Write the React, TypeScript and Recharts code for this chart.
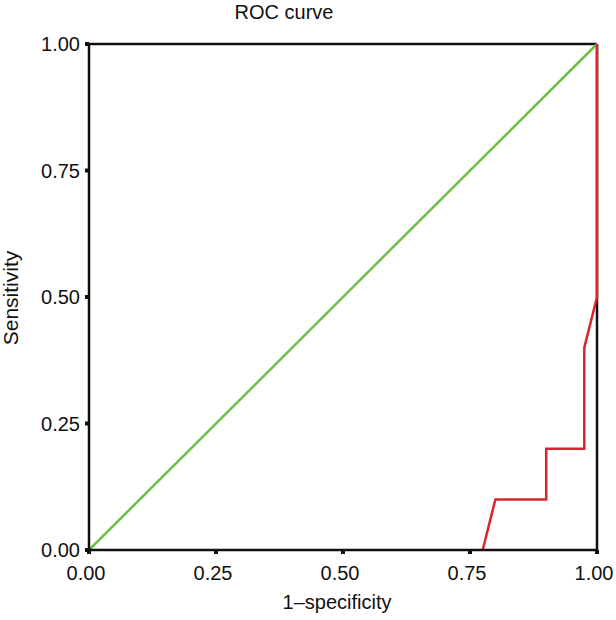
import React from 'react';
import { LineChart, Line, XAxis, YAxis, ReferenceLine } from 'recharts';

const xTicks = [0, 0.25, 0.5, 0.75, 1];
const yTicks = [0, 0.25, 0.5, 0.75, 1];
const tickLabels = ['0.00', '0.25', '0.50', '0.75', '1.00'];

const referenceFpr = [0, 1];
const referenceTpr = [0, 1];

const rocFpr = [0.775, 0.8, 0.9, 0.9, 0.975, 0.975, 1, 1];
const rocTpr = [0, 0.1, 0.1, 0.2, 0.2, 0.4, 0.5, 1];

const referenceData = referenceFpr.map((x, i) => ({ x, y: referenceTpr[i] }));
const rocData = rocFpr.map((x, i) => ({ x, y: rocTpr[i] }));

const FONT = '"Liberation Sans", Arial, sans-serif';
const fmt = (v: number) => tickLabels[xTicks.indexOf(v)] ?? v.toFixed(2);

export default function App() {
  return (
    <div style={{ position: 'absolute', left: 0, top: 0, width: 616, height: 620, background: '#fff', fontFamily: FONT }}>
      <LineChart width={616} height={620} margin={{ top: 44, right: 19, left: 0, bottom: 0 }}>
        <XAxis
          type="number"
          dataKey="x"
          domain={[0, 1]}
          ticks={xTicks}
          tickFormatter={fmt}
          height={70}
          axisLine={{ stroke: '#111', strokeWidth: 2.5 }}
          tickLine={{ stroke: '#111', strokeWidth: 4 }}
          tickSize={4}
          tickMargin={12}
          tick={{ fill: '#111', fontSize: 20, fontFamily: FONT, dx: -3 }}
        />
        <YAxis
          type="number"
          dataKey="y"
          domain={[0, 1]}
          ticks={yTicks}
          tickFormatter={fmt}
          width={89}
          axisLine={{ stroke: '#111', strokeWidth: 2.5 }}
          tickLine={{ stroke: '#111', strokeWidth: 4 }}
          tickSize={4}
          tickMargin={5}
          tick={{ fill: '#111', fontSize: 20, fontFamily: FONT }}
        />
        <ReferenceLine y={1} stroke="#111" strokeWidth={2.5} />
        <ReferenceLine x={1} stroke="#111" strokeWidth={2.5} />
        <Line
          data={referenceData}
          dataKey="y"
          type="linear"
          stroke="#6cbf45"
          strokeWidth={2.5}
          dot={false}
          isAnimationActive={false}
        />
        <Line
          data={rocData}
          dataKey="y"
          type="linear"
          stroke="#d7272c"
          strokeWidth={2.5}
          dot={false}
          isAnimationActive={false}
        />
      </LineChart>
      <div style={{ position: 'absolute', left: 0, width: 568, top: 0, textAlign: 'center', fontSize: 20, color: '#111', lineHeight: '24px' }}>
        ROC curve
      </div>
      <div style={{ position: 'absolute', left: 237, width: 200, top: 590, textAlign: 'center', fontSize: 20, color: '#111', lineHeight: '24px' }}>
        1–specificity
      </div>
      <div style={{ position: 'absolute', left: 11 - 100, width: 200, top: 298 - 12, textAlign: 'center', fontSize: 21, color: '#111', lineHeight: '24px', transform: 'rotate(-90deg)' }}>
        Sensitivity
      </div>
    </div>
  );
}
